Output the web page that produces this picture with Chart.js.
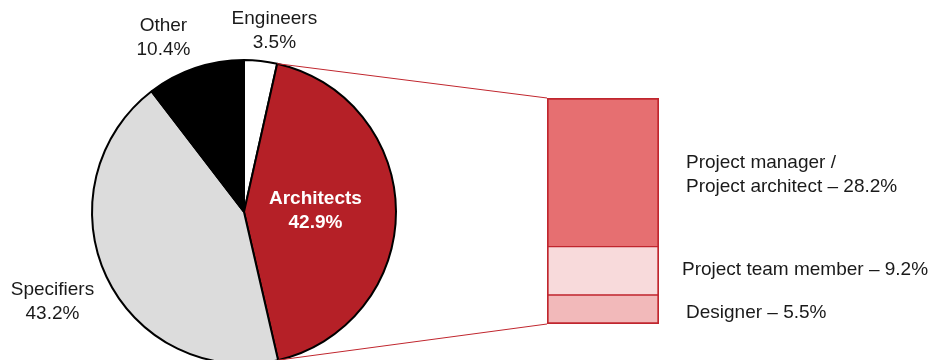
<!DOCTYPE html>
<html>
<head>
<meta charset="utf-8">
<script src="https://cdn.jsdelivr.net/npm/chart.js@4.4.1/dist/chart.umd.min.js"></script>
<style>
  html, body { margin: 0; padding: 0; width: 934px; height: 360px; overflow: hidden; background: #fff; }
  #pieCanvas { position: absolute; left: 0; top: 0; }
  #barCanvas { position: absolute; left: 547px; top: 98px; }
</style>
</head>
<body>
<canvas id="pieCanvas" width="934" height="420"></canvas>
<canvas id="barCanvas" width="112" height="226"></canvas>
<script>
// --- 1. DATA ---
const pieLabels = ['Engineers', 'Architects', 'Specifiers', 'Other'];
const pieValues = [3.5, 42.9, 43.2, 10.4];
const pieColors = ['#ffffff', '#b52027', '#dcdcdc', '#000000'];

// stacked bar, bottom to top
const barLabels = ['Designer', 'Project team member', 'Project manager / Project architect'];
const barValues = [5.5, 9.2, 28.2];
const barColors = ['#f2b9ba', '#f8dadb', '#e66f71'];
const barText = [['Designer \u2013 5.5%'], ['Project team member \u2013 9.2%'], ['Project manager /', 'Project architect \u2013 28.2%']];
const barTextShift = [[0, 1], [-4, -3], [0, 0]];

const FONT = '"Liberation Sans", Arial, sans-serif';
const RED_LINE = '#c0262e';

// label anchors relative to pie centre, in units of radius
const pieLabelPos = [[0.20, -1.195], [0.47, -0.01], [-1.26, 0.59], [-0.53, -1.145]];

// --- 2. BAR (breakdown of Architects) ---
const barChart = new Chart(document.getElementById('barCanvas'), {
    type: 'bar',
    data: {
        labels: ['Architects'],
        datasets: barValues.map((v, i) => ({
            label: barLabels[i],
            data: [v],
            backgroundColor: barColors[i],
            borderColor: RED_LINE,
            borderWidth: {
                left: 2, right: 2,
                top: i === barValues.length - 1 ? 2 : 1,
                bottom: i === 0 ? 2 : 1
            },
            borderSkipped: false,
            categoryPercentage: 1,
            barPercentage: 1
        }))
    },
    options: {
        responsive: false,
        animation: false,
        layout: { padding: 0 },
        plugins: { legend: { display: false }, tooltip: { enabled: false } },
        scales: {
            x: { stacked: true, display: false },
            y: { stacked: true, display: false, min: 0, max: barValues.reduce((a, b) => a + b, 0) }
        }
    }
});

// --- 3. PIE + labels + connectors ---
const pieDecor = {
    id: 'pieDecor',
    afterDraw(chart) {
        const ctx = chart.ctx;
        const arcs = chart.getDatasetMeta(0).data;
        const cx = arcs[0].x, cy = arcs[0].y, R = arcs[0].outerRadius;

        // slice labels
        ctx.save();
        ctx.textAlign = 'center';
        ctx.textBaseline = 'middle';
        pieLabels.forEach((name, i) => {
            const inside = i === 1;
            ctx.font = (inside ? 'bold ' : '') + '19px ' + FONT;
            ctx.fillStyle = inside ? '#ffffff' : '#1a1a1a';
            const x = cx + pieLabelPos[i][0] * R;
            const y = cy + pieLabelPos[i][1] * R;
            ctx.fillText(name, x, y - 12);
            ctx.fillText(pieValues[i].toFixed(1) + '%', x, y + 12);
        });

        // connector lines to the bar
        const arc = arcs[1];
        const canvasBox = barChart.canvas.getBoundingClientRect();
        const bars = barChart.data.datasets.map((d, i) => barChart.getDatasetMeta(i).data[0]);
        const topBar = bars[bars.length - 1], botBar = bars[0];
        const bx = canvasBox.left + topBar.x - topBar.width / 2;
        ctx.strokeStyle = RED_LINE;
        ctx.lineWidth = 1;
        ctx.beginPath();
        ctx.moveTo(cx + Math.cos(arc.startAngle) * R, cy + Math.sin(arc.startAngle) * R);
        ctx.lineTo(bx, canvasBox.top + topBar.y);
        ctx.moveTo(cx + Math.cos(arc.endAngle) * R, cy + Math.sin(arc.endAngle) * R);
        ctx.lineTo(bx, canvasBox.top + botBar.base);
        ctx.stroke();

        // bar segment labels
        ctx.textAlign = 'left';
        ctx.font = '19px ' + FONT;
        ctx.fillStyle = '#1a1a1a';
        bars.forEach((b, i) => {
            const mid = canvasBox.top + (b.y + b.base) / 2;
            const lines = barText[i];
            const tx = canvasBox.left + b.x + b.width / 2 + 27 + barTextShift[i][0];
            lines.forEach((t, k) => {
                ctx.fillText(t, tx, mid + (k - (lines.length - 1) / 2) * 24 + 2 + barTextShift[i][1]);
            });
        });
        ctx.restore();
    }
};

new Chart(document.getElementById('pieCanvas'), {
    type: 'pie',
    data: {
        labels: pieLabels,
        datasets: [{
            data: pieValues,
            backgroundColor: pieColors,
            borderColor: '#000000',
            borderWidth: 2
        }]
    },
    options: {
        responsive: false,
        animation: false,
        radius: 152,
        layout: { padding: { left: 92, right: 538, top: 60, bottom: 56 } },
        plugins: { legend: { display: false }, tooltip: { enabled: false } }
    },
    plugins: [pieDecor]
});
</script>
</body>
</html>
